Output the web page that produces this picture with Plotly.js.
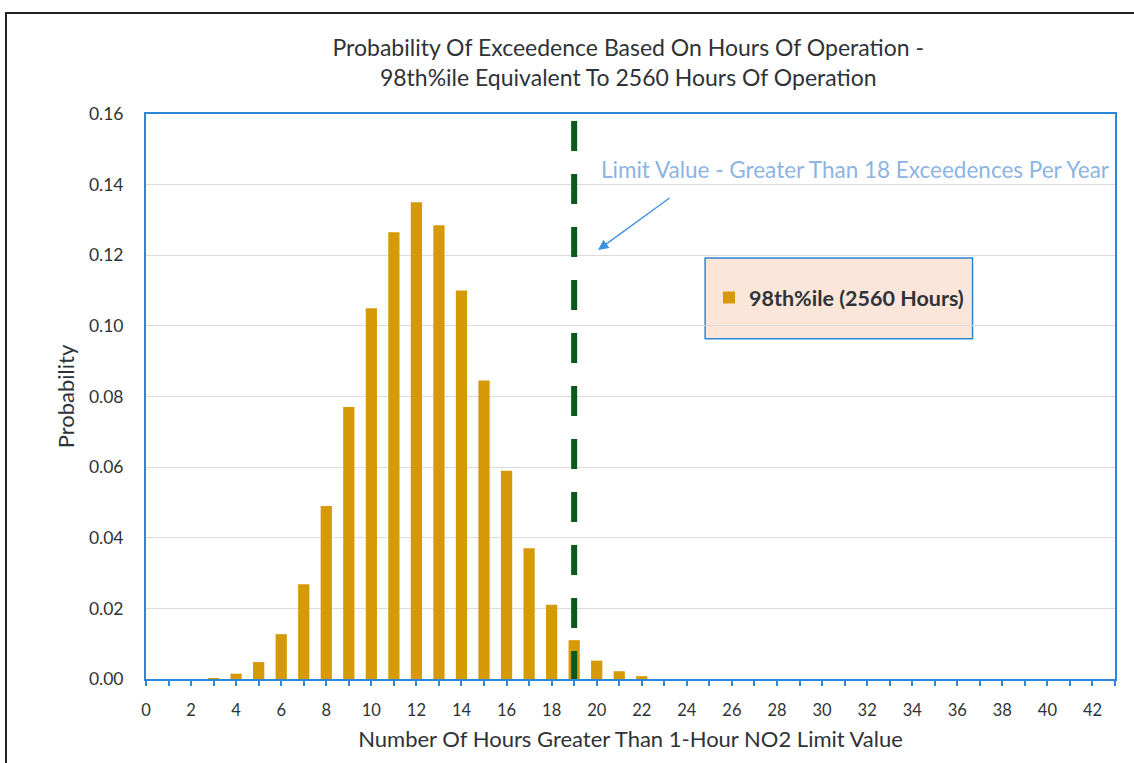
<!DOCTYPE html>
<html>
<head>
<meta charset="utf-8">
<script src="https://cdn.plot.ly/plotly-3.0.1.min.js"></script>
<style>
  html, body { margin: 0; padding: 0; background: #fff; }
  #wrap { position: relative; width: 1134px; height: 763px; overflow: hidden; }
  #frame { position: absolute; left: 5px; top: 12px; width: 1140px; height: 800px; border: 2px solid #222; box-sizing: border-box; pointer-events: none; }
  #chart { position: absolute; left: 0; top: 0; width: 1134px; height: 763px; }
</style>
</head>
<body>
<div id="wrap">
  <div id="chart"></div>
  <div id="frame"></div>
</div>
<script>
const hours = [3, 4, 5, 6, 7, 8, 9, 10, 11, 12, 13, 14, 15, 16, 17, 18, 19, 20, 21, 22];
const probability = [0.0003, 0.0015, 0.0048, 0.0127, 0.0268, 0.049, 0.077, 0.105, 0.1265, 0.135, 0.1285, 0.110, 0.0845, 0.059, 0.037, 0.021, 0.011, 0.0052, 0.0022, 0.0008];
const seriesName = "98th%ile (2560 Hours)";
const limitX = [19, 19];
const limitY = [0.158, 0];
const titleLines = ["Probability Of Exceedence Based On Hours Of Operation -", "98th%ile Equivalent To 2560 Hours Of Operation"];
const limitText = "Limit Value - Greater Than 18 Exceedences Per Year";

const font = "Lato, 'Open Sans', sans-serif";
const axisBlue = "#2b87d8";
const textDark = "#2f3337";

const traces = [
  {
    type: "bar", x: hours, y: probability, name: seriesName, width: 0.5,
    marker: { color: "#d69a09" }
  },
  {
    type: "scatter", mode: "lines", x: limitX, y: limitY, showlegend: false,
    line: { color: "#0b5a1b", width: 6, dash: "30px,23px" }, hoverinfo: "skip"
  }
];

const layout = {
  width: 1134, height: 763,
  margin: { l: 146, r: 19, t: 114, b: 84 },
  paper_bgcolor: "#ffffff", plot_bgcolor: "#ffffff",
  font: { family: font, color: textDark, size: 14 },
  title: {
    text: titleLines.join("<br>"),
    font: { family: font, size: 23, color: textDark },
    x: 0.554, xanchor: "center", y: 0.927, yanchor: "middle"
  },
  showlegend: true,
  legend: {
    x: 0.581, y: 0.675, xanchor: "left", yanchor: "middle",
    bgcolor: "rgba(0,0,0,0)", borderwidth: 0,
    font: { family: font, size: 21.5, color: textDark, weight: "bold" },
    itemwidth: 30
  },
  xaxis: {
    range: [0, 43], dtick: 2, tick0: 0,
    ticks: "outside", ticklen: 5, tickcolor: axisBlue, tickwidth: 2,
    minor: { dtick: 1, ticks: "outside", ticklen: 5, tickcolor: axisBlue, tickwidth: 2 },
    showline: true, linecolor: axisBlue, linewidth: 2, mirror: true,
    showgrid: false, zeroline: false,
    ticklabelstandoff: 10,
    tickfont: { family: font, size: 16.5, color: textDark },
    title: { text: "Number Of Hours Greater Than 1-Hour NO2 Limit Value", font: { family: font, size: 22, color: textDark }, standoff: 13 }
  },
  yaxis: {
    range: [0, 0.16], dtick: 0.02, tickformat: ".2f",
    ticks: "", showline: true, linecolor: axisBlue, linewidth: 2, mirror: true,
    showgrid: true, gridcolor: "#dcdcdc", gridwidth: 1, zeroline: false,
    tickfont: { family: font, size: 17.5, color: textDark },
    ticklabelstandoff: 17,
    title: { text: "Probability", font: { family: font, size: 22, color: textDark }, standoff: 8 }
  },
  shapes: [
    {
      type: "rect", xref: "paper", yref: "paper", layer: "below",
      x0: 0.577, x1: 0.853, y0: 0.602, y1: 0.745,
      fillcolor: "#fbe6d9", line: { color: axisBlue, width: 1.5 }
    }
  ],
  annotations: [
    {
      x: 20.1, y: 0.1442, xref: "x", yref: "y", xanchor: "left", yanchor: "middle",
      text: limitText, showarrow: false,
      font: { family: font, size: 22.5, color: "#8db4e3" }
    },
    {
      x: 20.06, y: 0.1215, ax: 23.3, ay: 0.1365, xref: "x", yref: "y", axref: "x", ayref: "y",
      text: "", showarrow: true, arrowhead: 2, arrowsize: 1.6, arrowwidth: 1.3, arrowcolor: "#3d8fe0"
    }
  ]
};

Plotly.newPlot("chart", traces, layout, { displayModeBar: false, staticPlot: true });
</script>
</body>
</html>
